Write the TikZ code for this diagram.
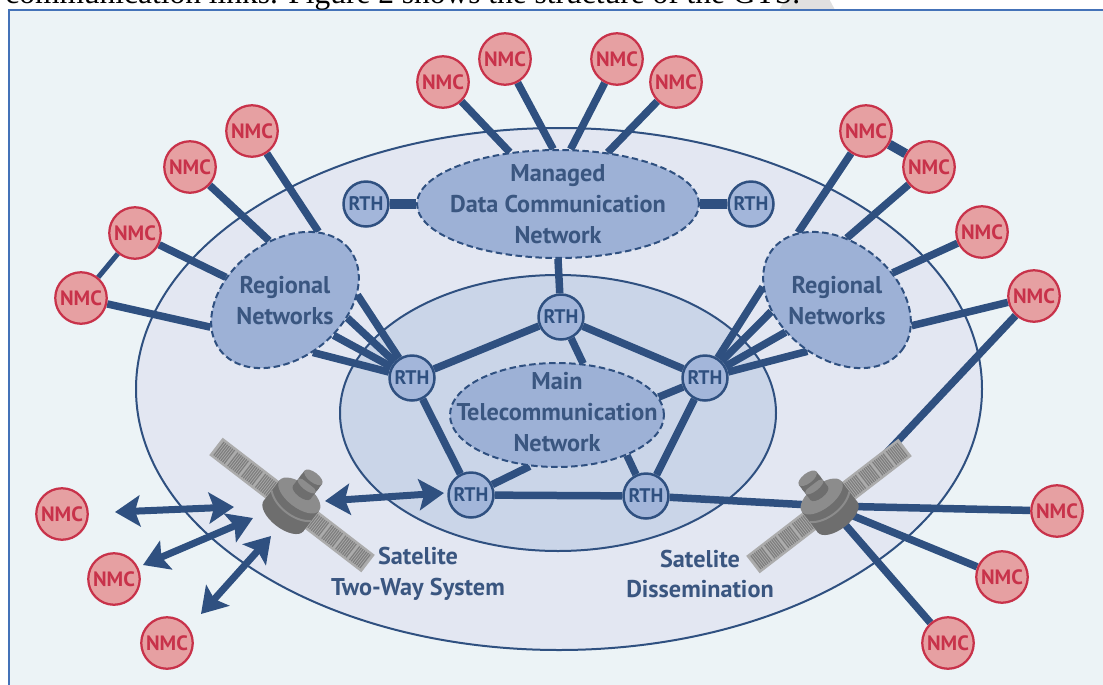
\documentclass[tikz,border=0pt]{standalone}
\usepackage{fontspec}
\setmainfont{PT Sans}
\newfontfamily\captionfont{Liberation Serif}
\usetikzlibrary{shapes.geometric,arrows.meta}
\definecolor{panelfill}{HTML}{ECF3F6}
\definecolor{panelline}{HTML}{4472B8}
\definecolor{outerfill}{HTML}{E3E7F2}
\definecolor{innerfill}{HTML}{CAD5E8}
\definecolor{netfill}{HTML}{9DB1D6}
\definecolor{linkblue}{HTML}{2F5080}
\definecolor{labelblue}{HTML}{3A5680}
\definecolor{nmcred}{HTML}{C8324A}
\definecolor{nmcfill}{HTML}{E6A0A2}
\definecolor{rthfill}{HTML}{A3B6DA}
\definecolor{satbody}{HTML}{6E6E6E}
\definecolor{satlight}{HTML}{8C8C8C}
\definecolor{satpanel}{HTML}{ABABAB}
\definecolor{satstripe}{HTML}{7E7E7E}
\pgfdeclarelayer{panel}
\pgfdeclarelayer{links}
\pgfsetlayers{panel,links,main}
\tikzset{
  nmc/.style={circle,draw=nmcred,fill=nmcfill,line width=0.045cm,minimum size=1.03cm,inner sep=0pt,text=nmcred,font=\bfseries\fontsize{11.8}{13}\selectfont},
  rth/.style={circle,draw=linkblue,fill=rthfill,line width=0.05cm,minimum size=0.9cm,inner sep=0pt,text=linkblue,font=\bfseries\fontsize{11.2}{13}\selectfont},
  net/.style={ellipse,draw=linkblue,fill=netfill,dash pattern=on 0.13cm off 0.07cm,line width=0.04cm,inner sep=0pt},
  nettext/.style={text=labelblue,align=center,font=\bfseries\fontsize{13.8}{17.6}\selectfont},
  link/.style={draw=linkblue,line width=0.15cm},
  thicklink/.style={draw=linkblue,line width=0.19cm},
  thinlink/.style={draw=linkblue,line width=0.1cm},
  ring/.style={draw=linkblue,line width=0.04cm},
  twoway/.style={draw=linkblue,line width=0.14cm,{Stealth[length=0.5cm,width=0.62cm,inset=0.1cm]}-{Stealth[length=0.5cm,width=0.62cm,inset=0.1cm]}},
  satellite/.pic={
    \foreach \s in {-1,1}{
      \draw[satbody,line width=0.05cm] (\s*16,0) -- (\s*26,0);
      \fill[satpanel] (\s*24,-11) rectangle (\s*96,11);
      \foreach \g in {0,1,2,3}{
        \foreach \i in {0,...,6}{
          \pgfmathsetmacro\u{\s*(26.5+17.5*\g+2.2*\i)}
          \draw[satstripe,line width=0.024cm] (\u,-8.5) -- (\u,8.5);
        }
      }
    }
    \fill[satbody] (-25,-12) rectangle (25,14);
    \fill[satbody] (0,14) ellipse [x radius=25,y radius=12];
    \draw[satlight,line width=0.04cm] (-25,1) .. controls (-13,12) and (13,12) .. (25,1);
    \fill[satlight] (0,-12) ellipse [x radius=25,y radius=12];
    \fill[satbody] (-11,-35) rectangle (11,-16);
    \fill[satbody] (0,-16) ellipse [x radius=11,y radius=5];
    \fill[satlight] (0,-24) ellipse [x radius=11,y radius=4];
    \fill[satbody] (-11,-30) rectangle (11,-27);
    \fill[satlight] (0,-35) ellipse [x radius=11,y radius=5];
  }
}
\begin{document}
\begin{tikzpicture}[x=0.02cm,y=-0.02cm]
  \useasboundingbox (0,0) rectangle (1103,684);
  % backdrop
  \begin{pgfonlayer}{panel}
    \fill[white] (0,-20) rectangle (1103,684);
    \fill[black!12] (779,10) -- (788,-5) -- (827,-5) -- (835,10) -- cycle;
    \filldraw[fill=panelfill,draw=panelline,line width=0.05cm] (9,10) rectangle (1120,700);
    \filldraw[fill=outerfill,ring] (559,389) ellipse [x radius=423,y radius=261];
    \filldraw[fill=innerfill,ring] (558,413) ellipse [x radius=218,y radius=138];
  \end{pgfonlayer}
  \node (caption) [anchor=base west,inner sep=0pt,font=\captionfont\fontsize{17.9}{20}\selectfont] at (5,3.5) {communication links. Figure 2 shows the structure of the GTS.};

  % networks
  \node (mdcn) [net,minimum width=5.64cm,minimum height=2.16cm] at (558,204) {};
  \node (mdcntext) [nettext] at (558,204) {Managed\\Data Communication\\Network};
  \node (mtn) [net,minimum width=4.28cm,minimum height=2.08cm] at (557,415) {};
  \node (mtntext) [nettext] at (557,412) {Main\\Telecommunication\\Network};
  \node (regl) [net,rotate=38,minimum width=3.28cm,minimum height=2.32cm] at (285,300) {};
  \node (regltext) [nettext] at (285,301) {Regional\\Networks};
  \node (regr) [net,rotate=-38,minimum width=3.28cm,minimum height=2.32cm] at (837,300) {};
  \node (regrtext) [nettext] at (837,301) {Regional\\Networks};

  % RTH
  \node (rthtl) [rth] at (366,204) {RTH};
  \node (rthtr) [rth] at (751,204) {RTH};
  \node (rthc) [rth] at (561,317) {RTH};
  \node (rthl) [rth] at (412,378) {RTH};
  \node (rthr) [rth] at (705,378) {RTH};
  \node (rthbl) [rth] at (471,495) {RTH};
  \node (rthbr) [rth] at (646,496) {RTH};

  % NMC
  \node (nmca) [nmc] at (443,82) {NMC};
  \node (nmcb) [nmc] at (505,59) {NMC};
  \node (nmcc) [nmc] at (617,59) {NMC};
  \node (nmcd) [nmc] at (676,82) {NMC};
  \node (nmce) [nmc] at (252,131) {NMC};
  \node (nmcf) [nmc] at (190,167) {NMC};
  \node (nmcg) [nmc] at (135,233) {NMC};
  \node (nmch) [nmc] at (81,298) {NMC};
  \node (nmci) [nmc] at (866,131) {NMC};
  \node (nmcj) [nmc] at (929,167) {NMC};
  \node (nmck) [nmc] at (982,232) {NMC};
  \node (nmcl) [nmc] at (1034,296) {NMC};
  \node (nmcm) [nmc] at (1057,511) {NMC};
  \node (nmcn) [nmc] at (1002,577) {NMC};
  \node (nmco) [nmc] at (948,643) {NMC};
  \node (nmcp) [nmc] at (62,514) {NMC};
  \node (nmcq) [nmc] at (114,579) {NMC};
  \node (nmcr) [nmc] at (167,643) {NMC};

  % satellites
  \coordinate (satl) at (292,505);
  \coordinate (satr) at (829,506);
  \coordinate (satrgap) at (845,497);
  \pic[rotate=-37.6] at (satl) {satellite};
  \pic[rotate=37.6] at (satr) {satellite};
  \node (satltext) [nettext] at (418,574) {Satelite\\Two-Way System};
  \node (satrtext) [nettext] at (700,574) {Satelite\\Dissemination};

  % links
  \begin{pgfonlayer}{links}
    \foreach \a/\b in {nmca/mdcn.133,nmcb/mdcn.95,nmcc/mdcn.77,nmcd/mdcn.46,
      nmce/regl.26,nmcf/regl.67,nmcg/regl.121,nmch/regl.162,
      rthl/regl.-34,rthl/regl.-54,rthl/regl.-74,rthl/regl.-100,
      nmci/regr.158,nmcj/regr.119,nmck/regr.64,nmcl/regr.19,
      rthr/regr.208,rthr/regr.228,rthr/regr.250,rthr/regr.278,
      rthc/mdcn.south,rthc/mtn.63,rthr/mtn.10,rthbr/mtn.-30,rthbl/mtn.242,
      rthc/rthl,rthc/rthr,rthl/rthbl,rthr/rthbr,rthbl/rthbr,
      rthbr/satr,nmcl/satrgap,nmcm/satr,nmcn/satr,nmco/satr}
      \draw[link] (\a) -- (\b);
    \draw[thicklink] (rthtl) -- (mdcn);
    \draw[thicklink] (rthtr) -- (mdcn);
    \draw[thicklink] (nmci) -- (nmcj);
    \draw[thinlink] (nmcg) -- (nmch);
  \end{pgfonlayer}

  % two-way arrows
  \coordinate (arpa) at (115,512);
  \coordinate (arpb) at (234,507);
  \coordinate (arqa) at (143,565);
  \coordinate (arqb) at (253,518);
  \coordinate (arra) at (201,614);
  \coordinate (arrb) at (271,536);
  \coordinate (arsa) at (325,501);
  \coordinate (arsb) at (444,493);
  \draw[twoway] (arpa) -- (arpb);
  \draw[twoway] (arqa) -- (arqb);
  \draw[twoway] (arra) -- (arrb);
  \draw[twoway] (arsa) -- (arsb);
\end{tikzpicture}
\end{document}
